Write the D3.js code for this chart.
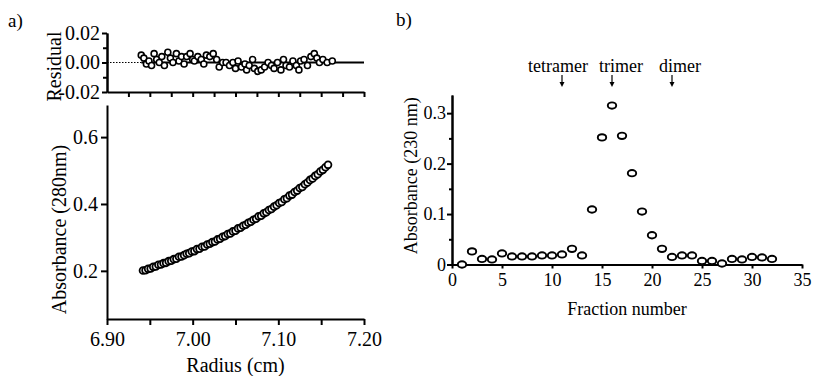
<!DOCTYPE html>
<html>
<head>
<meta charset="utf-8">
<script src="https://cdn.jsdelivr.net/npm/d3@7"></script>
<style>
  body { margin: 0; background: #fff; }
  svg { display: block; }
  .axis path, .axis line { stroke: #000; stroke-width: 2; }
  .axis text { fill: #000; }
</style>
</head>
<body>
<svg id="chart" width="814" height="376"></svg>
<script>
// ---- panel a: residuals (radius cm, residual) ----
const resRadius = [6.940, 6.943, 6.946, 6.949, 6.952, 6.955, 6.958, 6.961, 6.964, 6.967,
  6.971, 6.974, 6.977, 6.981, 6.984, 6.987, 6.990, 6.993, 6.997, 7.000,
  7.002, 7.006, 7.010, 7.013, 7.016, 7.020, 7.024, 7.028, 7.031, 7.035,
  7.039, 7.043, 7.047, 7.050, 7.053, 7.057, 7.061, 7.063, 7.066, 7.070,
  7.072, 7.076, 7.080, 7.084, 7.088, 7.092, 7.095, 7.099, 7.103, 7.106,
  7.109, 7.113, 7.117, 7.121, 7.124, 7.126, 7.130, 7.134, 7.138, 7.142,
  7.145, 7.148, 7.152, 7.157, 7.163];
const resValue = [0.005, 0.003, -0.001, 0.001, -0.002, 0.006, 0.002, 0.000, 0.004, -0.002,
  0.007, 0.003, 0.000, 0.006, 0.001, 0.004, -0.001, 0.004, 0.006, 0.002,
  0.001, 0.004, 0.002, -0.001, 0.005, 0.004, 0.006, 0.002, -0.003, 0.000,
  0.000, -0.002, 0.000, -0.004, 0.001, -0.003, -0.001, -0.005, -0.002, 0.002,
  -0.004, -0.006, -0.005, -0.003, 0.000, -0.002, -0.004, 0.000, -0.005, 0.002,
  -0.002, -0.003, 0.001, -0.002, -0.005, 0.001, 0.002, -0.002, 0.004, 0.006,
  0.003, 0.000, 0.002, 0.000, 0.001];

// ---- panel a: absorbance at 280 nm vs radius ----
const absRadius = [6.942, 6.945, 6.948, 6.951, 6.954, 6.957, 6.960, 6.963, 6.966, 6.969,
  6.972, 6.975, 6.978, 6.981, 6.984, 6.987, 6.990, 6.993, 6.996, 6.999,
  7.002, 7.005, 7.008, 7.011, 7.014, 7.017, 7.020, 7.023, 7.026, 7.029,
  7.032, 7.035, 7.038, 7.041, 7.044, 7.047, 7.050, 7.053, 7.056, 7.059,
  7.062, 7.065, 7.068, 7.071, 7.074, 7.077, 7.080, 7.083, 7.086, 7.089,
  7.092, 7.095, 7.098, 7.101, 7.104, 7.107, 7.110, 7.113, 7.116, 7.119,
  7.122, 7.125, 7.128, 7.131, 7.134, 7.137, 7.140, 7.143, 7.146, 7.149,
  7.152, 7.155, 7.158];
const absValue = [0.201, 0.202, 0.206, 0.207, 0.212, 0.213, 0.218, 0.219, 0.223, 0.224,
  0.229, 0.230, 0.235, 0.236, 0.242, 0.243, 0.247, 0.251, 0.253, 0.258,
  0.259, 0.265, 0.266, 0.272, 0.273, 0.279, 0.281, 0.286, 0.288, 0.294,
  0.296, 0.302, 0.304, 0.310, 0.312, 0.318, 0.320, 0.327, 0.329, 0.335,
  0.338, 0.344, 0.347, 0.353, 0.356, 0.363, 0.365, 0.372, 0.375, 0.382,
  0.385, 0.392, 0.396, 0.403, 0.406, 0.414, 0.417, 0.425, 0.428, 0.436,
  0.440, 0.448, 0.451, 0.459, 0.464, 0.472, 0.476, 0.484, 0.489, 0.497,
  0.502, 0.510, 0.517];

const radiusTicks = [6.90, 6.95, 7.00, 7.05, 7.10, 7.15, 7.20];
const radiusTickLabels = ['6.90', '', '7.00', '', '7.10', '', '7.20'];
const residualMinorTicks = [6.925, 6.95, 6.975, 7.00, 7.025, 7.05, 7.075, 7.10, 7.125, 7.15, 7.175, 7.20];
const residualTicks = [-0.02, 0.00, 0.02];
const residualTickLabels = ['-0.02', '0.00', '0.02'];
const absTicks = [0.2, 0.4, 0.6];
const absTickLabels = ['0.2', '0.4', '0.6'];

// ---- panel b: gel filtration fractions ----
const fractions = [1, 2, 3, 4, 5, 6, 7, 8, 9, 10, 11, 12, 13, 14, 15, 16,
  17, 18, 19, 20, 21, 22, 23, 24, 25, 26, 27, 28, 29, 30, 31, 32];
const absorbance230 = [0.000, 0.026, 0.011, 0.010, 0.022, 0.016, 0.016, 0.016, 0.018, 0.018,
  0.020, 0.031, 0.018, 0.109, 0.252, 0.315, 0.255, 0.181, 0.105, 0.058,
  0.031, 0.015, 0.018, 0.018, 0.007, 0.007, 0.002, 0.011, 0.010, 0.015,
  0.014, 0.011];
const fractionTicks = [0, 5, 10, 15, 20, 25, 30, 35];
const abs230Ticks = [0, 0.1, 0.2, 0.3];
const abs230TickLabels = ['0', '0.1', '0.2', '0.3'];
const abs230MinorTicks = [0.05, 0.15, 0.25];
const markerNames = ['tetramer', 'trimer', 'dimer'];
const markerFractions = [11, 16, 22];

const svg = d3.select('#chart');
const serif = '"Liberation Serif", "Times New Roman", Times, serif';
const fontA = '20px';
const fontB = '18px';

// write text in the serif face at a given size
function txt(sel, size) {
  return sel.style('font-family', serif).style('font-size', size).style('fill', '#000');
}

// d3 axes put a sans-serif font on their group; override it on each label
function styleAxis(g, size) {
  g.attr('font-family', serif).attr('font-size', null);
  txt(g.selectAll('text'), size);
}

// panel labels
txt(svg.append('text').attr('x', 8).attr('y', 27), '19px').text('a)');
txt(svg.append('text').attr('x', 396).attr('y', 26), '19px').text('b)');

// ===== panel a, residual strip =====
const xRes = d3.scaleLinear().domain([6.90, 7.20]).range([107, 364]);
const yRes = d3.scaleLinear().domain([-0.02, 0.02]).range([92, 33]);

svg.append('g')
  .attr('class', 'axis')
  .attr('transform', `translate(0,${yRes(-0.02)})`)
  .call(d3.axisBottom(xRes).tickValues(residualMinorTicks).tickFormat('').tickSize(5).tickSizeOuter(0));

svg.append('g')
  .attr('class', 'axis')
  .attr('transform', 'translate(107,0)')
  .call(d3.axisLeft(yRes).tickValues([-0.01, 0.01]).tickFormat('').tickSize(4).tickSizeOuter(0));

svg.append('g')
  .attr('class', 'axis')
  .attr('transform', 'translate(107,0)')
  .call(d3.axisLeft(yRes).tickValues(residualTicks)
    .tickFormat((d, i) => residualTickLabels[i]).tickSize(5).tickPadding(2).tickSizeOuter(0))
  .call(styleAxis, fontA);

// zero line: dotted before the data, solid across it
svg.append('line')
  .attr('x1', xRes(6.90)).attr('x2', xRes(resRadius[0]))
  .attr('y1', yRes(0)).attr('y2', yRes(0))
  .style('stroke', '#000').style('stroke-width', 1.2).style('stroke-dasharray', '1.5,1.5');
svg.append('line')
  .attr('x1', xRes(resRadius[0])).attr('x2', xRes(7.20))
  .attr('y1', yRes(0)).attr('y2', yRes(0))
  .style('stroke', '#000').style('stroke-width', 2);

svg.append('g')
  .selectAll('circle')
  .data(resRadius)
  .enter()
  .append('circle')
  .attr('cx', d => xRes(d))
  .attr('cy', (d, i) => yRes(resValue[i]))
  .attr('r', 3)
  .style('fill', '#fff')
  .style('stroke', '#000')
  .style('stroke-width', 1.6);

txt(svg.append('text')
  .attr('transform', `translate(61,${yRes(0) + 4}) rotate(-90)`)
  .attr('text-anchor', 'middle'), fontA)
  .text('Residual');

// ===== panel a, absorbance vs radius =====
const xAbs = d3.scaleLinear().domain([6.90, 7.20]).range([107, 364]);
const yAbs = d3.scaleLinear().domain([0.056, 0.696]).range([319, 105]);

svg.append('g')
  .attr('class', 'axis')
  .attr('transform', `translate(0,${yAbs(0.056)})`)
  .call(d3.axisBottom(xAbs).tickValues(radiusTicks)
    .tickFormat((d, i) => radiusTickLabels[i]).tickSize(6).tickPadding(7).tickSizeOuter(0))
  .call(styleAxis, fontA);

svg.append('g')
  .attr('class', 'axis')
  .attr('transform', 'translate(107,0)')
  .call(d3.axisLeft(yAbs).tickValues(absTicks)
    .tickFormat((d, i) => absTickLabels[i]).tickSize(6).tickPadding(3).tickSizeOuter(0))
  .call(styleAxis, fontA);

svg.append('g')
  .selectAll('circle')
  .data(absRadius)
  .enter()
  .append('circle')
  .attr('cx', d => xAbs(d))
  .attr('cy', (d, i) => yAbs(absValue[i]))
  .attr('r', 3.4)
  .style('fill', '#fff')
  .style('stroke', '#000')
  .style('stroke-width', 1.8);

txt(svg.append('text')
  .attr('transform', `translate(66,${(yAbs(0.056) + 140) / 2}) rotate(-90)`)
  .attr('text-anchor', 'middle'), fontA)
  .text('Absorbance (280nm)');

txt(svg.append('text')
  .attr('x', (xAbs(6.90) + xAbs(7.20)) / 2)
  .attr('y', 372)
  .attr('text-anchor', 'middle'), fontA)
  .text('Radius (cm)');

// ===== panel b =====
const xFr = d3.scaleLinear().domain([0, 35]).range([452, 802]);
const yFr = d3.scaleLinear().domain([0, 0.336]).range([264.5, 95]);

svg.append('g')
  .attr('class', 'axis')
  .attr('transform', `translate(0,${yFr(0)})`)
  .call(d3.axisBottom(xFr).tickValues(fractionTicks).tickSize(4).tickPadding(5).tickSizeOuter(0))
  .call(styleAxis, fontB);

svg.append('g')
  .attr('class', 'axis')
  .attr('transform', 'translate(452,0)')
  .call(d3.axisLeft(yFr).tickValues(abs230MinorTicks).tickFormat('').tickSize(3).tickSizeOuter(0));

svg.append('g')
  .attr('class', 'axis')
  .attr('transform', 'translate(452,0)')
  .call(d3.axisLeft(yFr).tickValues(abs230Ticks)
    .tickFormat((d, i) => abs230TickLabels[i]).tickSize(5).tickPadding(1).tickSizeOuter(0))
  .call(styleAxis, fontB);

svg.append('g')
  .selectAll('ellipse')
  .data(fractions)
  .enter()
  .append('ellipse')
  .attr('cx', d => xFr(d))
  .attr('cy', (d, i) => yFr(absorbance230[i]))
  .attr('rx', 4.2)
  .attr('ry', 3.2)
  .style('fill', '#fff')
  .style('stroke', '#000')
  .style('stroke-width', 1.9);

txt(svg.append('text')
  .attr('transform', `translate(417,${(yFr(0) + 87) / 2}) rotate(-90)`)
  .attr('text-anchor', 'middle'), fontB)
  .text('Absorbance (230 nm)');

txt(svg.append('text')
  .attr('x', (xFr(0) + xFr(35)) / 2)
  .attr('y', 315)
  .attr('text-anchor', 'middle'), fontB)
  .text('Fraction number');

// size-standard markers with down arrows
const labelShift = [-4, 9, 8];
const markers = svg.append('g');
markerNames.forEach((name, i) => {
  const cx = xFr(markerFractions[i]);
  txt(markers.append('text')
    .attr('x', cx + labelShift[i])
    .attr('y', 72)
    .attr('text-anchor', 'middle'), fontB)
    .text(name);
  markers.append('line')
    .attr('x1', cx).attr('x2', cx)
    .attr('y1', 75).attr('y2', 83)
    .style('stroke', '#000').style('stroke-width', 1.2);
  markers.append('path')
    .attr('d', `M${cx - 2.5},${82} L${cx + 2.5},${82} L${cx},${87} Z`)
    .style('fill', '#000');
});
</script>
</body>
</html>
